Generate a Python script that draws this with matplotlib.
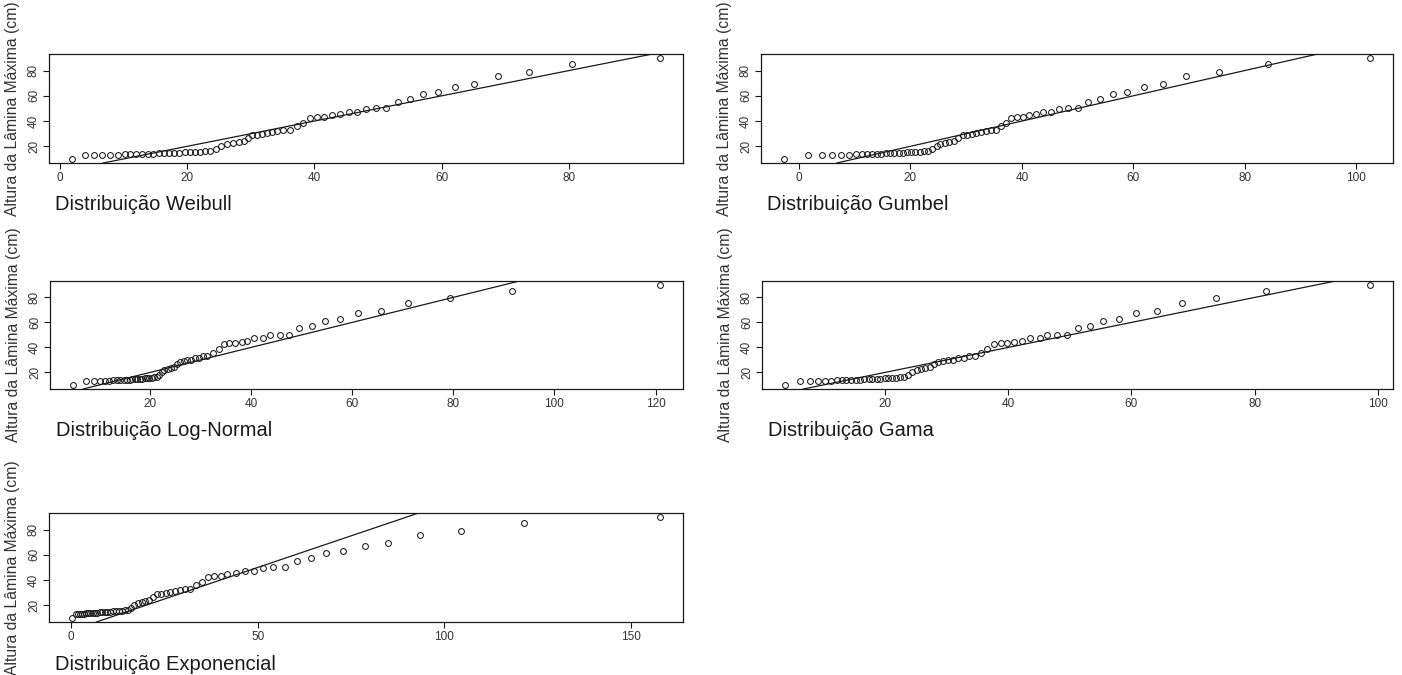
import matplotlib
matplotlib.use("Agg")
import matplotlib.pyplot as plt

# sorted sample (cm), the same on every panel
altura = [10.0, 13.4, 13.4, 13.4, 13.4, 13.4, 13.9, 13.9, 13.9, 14.0,
          14.2, 14.2, 14.5, 14.5, 14.8, 15.0, 15.0, 15.2, 15.3, 15.5,
          15.8, 16.0, 16.4, 18.0, 20.6, 22.0, 22.5, 23.2, 24.5, 26.7,
          28.6, 29.0, 30.0, 30.2, 31.2, 31.8, 33.0, 33.2, 35.8, 38.7,
          42.4, 43.2, 43.4, 44.6, 45.4, 47.2, 47.4, 49.9, 50.0, 50.1,
          55.2, 57.1, 61.1, 63.0, 67.2, 69.1, 75.8, 79.2, 85.4, 89.9]

# theoretical quantiles
q_weibull = [2.0, 4.0, 5.4, 6.7, 7.9, 9.1, 10.2, 11.1, 12.0, 12.9,
             13.8, 14.7, 15.6, 16.4, 17.2, 18.0, 18.8, 19.6, 20.4, 21.2,
             22.0, 22.8, 23.6, 24.5, 25.4, 26.3, 27.2, 28.1, 28.9, 29.6,
             30.2, 31.0, 31.8, 32.5, 33.4, 34.1, 35.1, 36.1, 37.2, 38.2,
             39.3, 40.4, 41.5, 42.7, 44.0, 45.4, 46.7, 48.1, 49.6, 51.3,
             53.1, 55.0, 57.1, 59.4, 62.0, 65.1, 68.9, 73.7, 80.5, 94.2]
q_gumbel = [-2.6, 1.6, 4.2, 6.0, 7.5, 9.0, 10.2, 11.3, 12.2, 13.1,
            14.0, 14.8, 15.6, 16.4, 17.1, 17.9, 18.7, 19.4, 20.2, 20.9,
            21.7, 22.4, 23.1, 23.9, 24.7, 25.4, 26.3, 27.0, 27.8, 28.6,
            29.4, 30.2, 31.0, 31.8, 32.6, 33.5, 34.4, 35.3, 36.2, 37.1,
            38.1, 39.1, 40.2, 41.3, 42.5, 43.8, 45.2, 46.7, 48.3, 50.0,
            51.9, 54.0, 56.3, 58.9, 61.9, 65.3, 69.5, 75.3, 84.1, 102.4]
q_lognormal = [4.9, 7.4, 8.9, 10.1, 11.1, 12.0, 12.8, 13.5, 14.2, 14.8,
               15.4, 16.0, 16.5, 17.0, 17.5, 18.0, 18.5, 19.0, 19.4, 19.9,
               20.4, 20.9, 21.4, 21.9, 22.4, 22.9, 23.5, 24.1, 24.7, 25.3,
               26.0, 26.7, 27.4, 28.1, 28.9, 29.7, 30.5, 31.4, 32.4, 33.6,
               34.6, 35.7, 36.9, 38.2, 39.3, 40.7, 42.4, 43.8, 45.7, 47.5,
               49.6, 52.0, 54.6, 57.7, 61.1, 65.8, 71.0, 79.3, 91.7, 120.8]
q_gama = [3.9, 6.3, 7.9, 9.2, 10.3, 11.3, 12.2, 13.0, 13.8, 14.6,
          15.3, 16.0, 16.7, 17.4, 18.0, 18.7, 19.3, 20.0, 20.6, 21.2,
          21.9, 22.5, 23.2, 23.8, 24.5, 25.2, 25.9, 26.6, 27.3, 28.0,
          28.7, 29.5, 30.3, 31.1, 31.9, 32.8, 33.7, 34.6, 35.6, 36.6,
          37.7, 38.8, 39.9, 40.9, 42.3, 43.6, 45.1, 46.3, 47.9, 49.5,
          51.3, 53.2, 55.4, 58.0, 60.8, 64.1, 68.2, 73.7, 81.8, 98.6]
q_exponencial = [0.4, 1.3, 1.8, 2.3, 2.9, 3.4, 4.0, 4.6, 5.2, 5.8,
                 6.4, 7.0, 7.7, 8.3, 9.0, 9.7, 10.5, 11.2, 12.0, 12.8,
                 13.6, 14.4, 15.2, 16.1, 17.0, 18.0, 18.9, 19.9, 21.0, 22.0,
                 23.1, 24.2, 25.4, 26.6, 27.9, 29.2, 30.6, 32.0, 33.5, 35.1,
                 36.6, 38.3, 40.2, 41.9, 44.2, 46.6, 49.0, 51.5, 54.2, 57.3,
                 60.4, 64.4, 68.4, 72.8, 78.6, 85.0, 93.5, 104.4, 121.3, 157.6]

titulos = ["Distribuição Weibull", "Distribuição Gumbel", "Distribuição Log-Normal",
           "Distribuição Gama", "Distribuição Exponencial"]
x_ticks = [[0, 20, 40, 60, 80], [0, 20, 40, 60, 80, 100], [20, 40, 60, 80, 100, 120],
           [20, 40, 60, 80, 100], [0, 50, 100, 150]]
y_ticks = [20, 40, 60, 80]
ylab = "Altura da Lâmina Máxima (cm)"

W, H = 1402, 675
# plot boxes in pixels: left, right, top, bottom
boxes = [(49, 683, 54, 163), (761, 1393, 54, 163),
         (50, 683, 281, 389), (762, 1393, 281, 389),
         (49, 683, 513, 622)]

plt.rcParams["font.family"] = ["Liberation Sans", "DejaVu Sans"]
INK = "#1a1a1a"


def r_lim(v):
    lo, hi = min(v), max(v)
    d = 0.04 * (hi - lo)
    return lo - d, hi + d


fig = plt.figure(figsize=(W / 100, H / 100), dpi=100)
for q, tit, xt, (l, r, t, b) in zip(
        [q_weibull, q_gumbel, q_lognormal, q_gama, q_exponencial],
        titulos, x_ticks, boxes):
    ax = fig.add_axes([l / W, 1 - b / H, (r - l) / W, (b - t) / H])
    ax.plot(q, altura, ls="none", marker="o", ms=4.2, mfc="none",
            mec=INK, mew=0.75)
    ax.axline((0, 0), slope=1, color=INK, lw=0.9)
    ax.set_xlim(r_lim(q))
    ax.set_ylim(r_lim(altura))
    ax.set_xticks(xt)
    ax.set_yticks(y_ticks)
    for s in ax.spines.values():
        s.set_linewidth(0.9)
        s.set_color(INK)
    ax.tick_params(direction="out", length=4, width=0.8, color=INK,
                   labelsize=8.5, labelcolor="#333333", pad=2.5)
    ax.tick_params(axis="y", labelrotation=90)
    for lab in ax.get_yticklabels():
        lab.set_va("center")
    ax.set_ylabel(ylab, fontsize=11.3, color="#333333", labelpad=6)
    ax.text(6 / (r - l), -42 / (b - t), tit, transform=ax.transAxes,
            fontsize=14.5, color=INK, ha="left", va="center")

fig.savefig("out.png", dpi=100)
